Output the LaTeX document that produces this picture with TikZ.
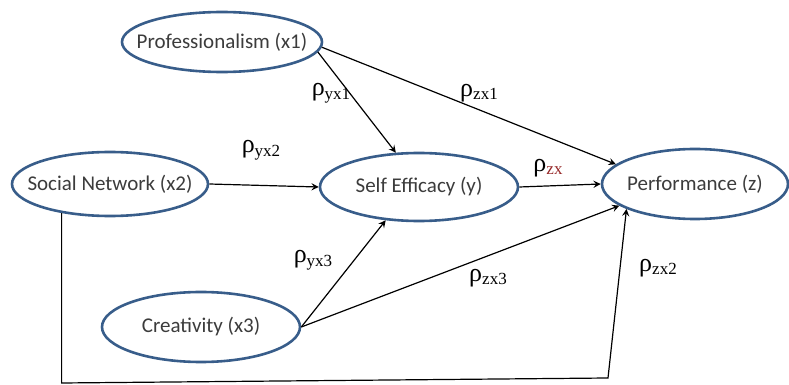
\documentclass[tikz,border=0pt]{standalone}
\usepackage{fontspec}
\setmainfont{Carlito}
\newfontfamily\rhofont{Liberation Serif}
\usetikzlibrary{shapes.geometric, arrows, positioning}
\definecolor{ovalline}{RGB}{56,93,138}
\definecolor{ovaltext}{RGB}{60,60,60}
\definecolor{spellred}{RGB}{150,40,40}
\newcommand{\pcoef}[1]{{\rhofont\fontsize{13}{13}\selectfont ρ\raisebox{-0.3ex}{\fontsize{8.5}{9}\selectfont #1}}}

\begin{document}
\begin{tikzpicture}[
    x=0.5pt, y=-0.5pt,
    oval/.style={ellipse, draw=ovalline, line width=1.3pt, fill=white, inner sep=0pt,
        label={[ovaltext, font=\fontsize{10.5}{12}\selectfont]center:#1}},
    coef/.style={inner sep=0pt, text=black},
    arrow/.style={->,>=stealth, line width=0.6pt}
]
\useasboundingbox (0,0) rectangle (789,385);

% Variables (ellipses)
\node[oval={Professionalism (x1)}, minimum width=100pt, minimum height=30pt] (prof) at (222,42) {};
\node[oval={Social Network (x2)}, minimum width=98pt, minimum height=32pt] (social) at (110,184) {};
\node[oval={Self Efficacy (y)}, minimum width=99pt, minimum height=34pt] (self) at (419,187) {};
\node[oval={Performance (z)}, minimum width=93pt, minimum height=35pt] (perf) at (695,184) {};
\node[oval={Creativity (x3)}, minimum width=99pt, minimum height=35pt] (creat) at (201,327) {};

% Corner of the path from Social Network
\coordinate (turn) at (608,378);

% Path coefficients
\node[coef] (yx1) at (331,93) {\pcoef{yx1}};
\node[coef] (zx1) at (479,93) {\pcoef{zx1}};
\node[coef] (yx2) at (261,150) {\pcoef{yx2}};
\node[coef] (zy) at (548,168) {\pcoef{\textcolor{spellred}{zx}}};
\node[coef] (yx3) at (313,260) {\pcoef{yx3}};
\node[coef] (zx3) at (488,278) {\pcoef{zx3}};
\node[coef] (zx2) at (658,268) {\pcoef{zx2}};

% Arrows into Self Efficacy
\draw[arrow] (prof.-6) -- (self.124);
\draw[arrow] (social.east) -- (self.west);
\draw[arrow] (creat.east) -- (self.225);

% Arrows into Performance
\draw[arrow] (prof.-3) -- (perf.166);
\draw[arrow] (self.east) -- (perf.west);
\draw[arrow] (creat.east) -- (perf.196);
\draw[arrow] (social.211) -- (social.211 |- 0,383) -- (turn) -- (perf.200);

\end{tikzpicture}
\end{document}
